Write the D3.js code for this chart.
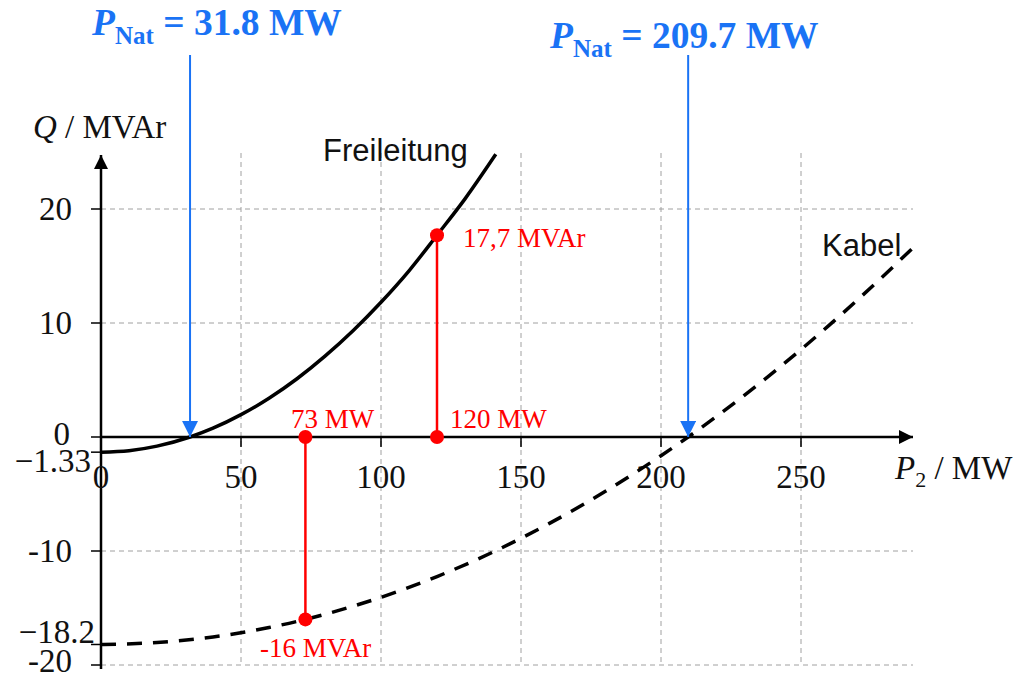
<!DOCTYPE html>
<html>
<head>
<meta charset="utf-8">
<script src="https://cdn.jsdelivr.net/npm/d3@7"></script>
<style>
  html, body { margin: 0; padding: 0; background: #fff; }
  svg { display: block; }
</style>
</head>
<body>
<svg id="chart" width="1029" height="675"></svg>
<script>
// Reactive power Q at the receiving end vs. transmitted power P2
const xTicks = [0, 50, 100, 150, 200, 250];
const yTicks = [20, 10, 0, -10, -20];
const yGrid = [20, 10, -10, -20];

// Overhead line (Freileitung): P2 in MW, Q in MVAr
const overheadP = [0, 10, 20, 31.8, 40, 50, 60, 70, 80, 90, 100, 110, 120, 130, 141];
const overheadQ = [-1.33, -1.2, -0.8, 0, 0.77, 1.96, 3.4, 5.11, 7.09, 9.32, 11.82, 14.58, 17.7, 20.89, 24.8];

// Cable (Kabel): P2 in MW, Q in MVAr
const cableP = [0, 20, 40, 60, 73, 80, 100, 120, 140, 160, 180, 200, 209.7, 220, 240, 260, 280, 290];
const cableQ = [-18.2, -18.03, -17.54, -16.71, -16, -15.55, -14.06, -12.24, -10.09, -7.6, -4.79, -1.64, 0, 1.84, 5.65, 9.79, 14.26, 16.6];

// Marked operating points
const markerP = [120, 73];
const markerQ = [17.7, -16];
const markerPLabels = ["120 MW", "73 MW"];
const markerQLabels = ["17,7 MVAr", "-16 MVAr"];

// Natural power (Q = 0 crossings)
const natP = [31.8, 209.7];
const natLabels = ["31.8 MW", "209.7 MW"];

const svg = d3.select("#chart");
const x = d3.scaleLinear().domain([0, 250]).range([101, 801]);
const y = d3.scaleLinear().domain([0, 20]).range([437, 209]);

const serif = "'Liberation Serif', 'DejaVu Serif', serif";
const sans = "'Liberation Sans', Arial, sans-serif";
const red = "#ff0000";
const blue = "#1a73f5";

const defs = svg.append("defs");
defs.append("marker").attr("id", "axArrow").attr("viewBox", "0 0 10 10")
  .attr("refX", 10).attr("refY", 5).attr("markerWidth", 16).attr("markerHeight", 14)
  .attr("markerUnits", "userSpaceOnUse").attr("orient", "auto")
  .append("path").attr("d", "M0,0 L10,5 L0,10 Z").attr("fill", "#000");
defs.append("marker").attr("id", "blueArrow").attr("viewBox", "0 0 10 10")
  .attr("refX", 10).attr("refY", 5).attr("markerWidth", 17).attr("markerHeight", 16)
  .attr("markerUnits", "userSpaceOnUse").attr("orient", "auto")
  .append("path").attr("d", "M0,0 L10,5 L0,10 Z").attr("fill", blue);

// Grid
const grid = svg.append("g").attr("stroke", "#a0a0a0").attr("stroke-width", 1)
  .attr("stroke-dasharray", "5,4");
grid.selectAll("line.v").data(xTicks.slice(1)).join("line")
  .attr("x1", d => x(d)).attr("x2", d => x(d))
  .attr("y1", 153).attr("y2", y(-20));
grid.selectAll("line.h").data(yGrid).join("line")
  .attr("x1", x(0)).attr("x2", 913)
  .attr("y1", d => y(d)).attr("y2", d => y(d));

// Axes
const axes = svg.append("g").attr("stroke", "#000").attr("stroke-width", 2.5);
axes.append("line").attr("x1", x(0)).attr("x2", 913).attr("y1", y(0)).attr("y2", y(0))
  .attr("marker-end", "url(#axArrow)");
axes.append("line").attr("x1", x(0)).attr("x2", x(0)).attr("y1", y(-20) + 4).attr("y2", 155)
  .attr("marker-end", "url(#axArrow)");

// Tick marks
const ticks = svg.append("g").attr("stroke", "#000").attr("stroke-width", 1.5);
ticks.selectAll("line.xt").data(xTicks.slice(1)).join("line")
  .attr("x1", d => x(d)).attr("x2", d => x(d)).attr("y1", y(0)).attr("y2", y(0) + 10);
ticks.selectAll("line.yt").data(yTicks.concat([-18.2, -1.33])).join("line")
  .attr("x1", x(0) - 10).attr("x2", x(0)).attr("y1", d => y(d)).attr("y2", d => y(d));

// Tick labels
const yLabelShift = d => (d === -20 ? 7 : d === 0 ? 8 : 11);
const tl = svg.append("g").attr("font-family", serif).attr("font-size", 33).attr("fill", "#111");
tl.selectAll("text.x").data(xTicks).join("text")
  .attr("x", d => x(d)).attr("y", 488).attr("text-anchor", "middle").text(d => d);
tl.selectAll("text.y").data(yTicks).join("text")
  .attr("x", d => d === 0 ? 70 : 72).attr("y", d => y(d) + yLabelShift(d))
  .attr("text-anchor", "end").text(d => String(d));
tl.append("text").attr("x", 91).attr("y", 472).attr("text-anchor", "end").text("\u22121.33");
tl.append("text").attr("x", 95).attr("y", 643).attr("text-anchor", "end").text("\u221218.2");

// Axis titles
const qt = tl.append("text").attr("x", 33).attr("y", 138);
qt.append("tspan").attr("font-style", "italic").text("Q");
qt.append("tspan").text(" / MVAr");
const pt = tl.append("text").attr("x", 895).attr("y", 479);
pt.append("tspan").attr("font-style", "italic").text("P");
pt.append("tspan").attr("font-size", 22).attr("dy", 8).text("2");
pt.append("tspan").attr("dy", -8).text(" / MW");

// Curves
const line = d3.line().curve(d3.curveMonotoneX).x(d => x(d[0])).y(d => y(d[1]));
svg.append("path").datum(d3.zip(overheadP, overheadQ)).attr("d", line)
  .attr("fill", "none").attr("stroke", "#000").attr("stroke-width", 3.5);
svg.append("path").datum(d3.zip(cableP, cableQ)).attr("d", line)
  .attr("fill", "none").attr("stroke", "#000").attr("stroke-width", 3.5)
  .attr("stroke-dasharray", "15,11");

svg.append("text").attr("x", 323).attr("y", 161).attr("font-family", sans)
  .attr("font-size", 31).attr("fill", "#111").text("Freileitung");
svg.append("text").attr("x", 822).attr("y", 256).attr("font-family", sans)
  .attr("font-size", 31).attr("fill", "#111").text("Kabel");

// Operating points
const mk = svg.append("g");
markerP.forEach((p, i) => {
  mk.append("line").attr("x1", x(p)).attr("x2", x(p)).attr("y1", y(0)).attr("y2", y(markerQ[i]))
    .attr("stroke", red).attr("stroke-width", 2.5);
  mk.append("circle").attr("cx", x(p)).attr("cy", y(0)).attr("r", 7).attr("fill", red);
  mk.append("circle").attr("cx", x(p)).attr("cy", y(markerQ[i])).attr("r", 7).attr("fill", red);
});
const ml = svg.append("g").attr("font-family", serif).attr("font-size", 27).attr("fill", red);
ml.append("text").attr("x", 450).attr("y", 428).text(markerPLabels[0]);
ml.append("text").attr("x", 291).attr("y", 428).text(markerPLabels[1]);
ml.append("text").attr("x", 463).attr("y", 247).text(markerQLabels[0]);
ml.append("text").attr("x", 260).attr("y", 657).text(markerQLabels[1]);

// Natural power annotations
const labelPos = [[92, 35], [550, 48]];
natP.forEach((p, i) => {
  svg.append("line").attr("x1", x(p)).attr("x2", x(p)).attr("y1", 55).attr("y2", y(0))
    .attr("stroke", blue).attr("stroke-width", 2).attr("marker-end", "url(#blueArrow)");
  const t = svg.append("text").attr("x", labelPos[i][0]).attr("y", labelPos[i][1])
    .attr("font-family", serif).attr("font-weight", "bold").attr("font-size", 37.5).attr("fill", blue);
  t.append("tspan").attr("font-style", "italic").text("P");
  t.append("tspan").attr("font-size", 25).attr("dy", 9).text("Nat");
  t.append("tspan").attr("dy", -9).text(" = " + natLabels[i]);
});
</script>
</body>
</html>
